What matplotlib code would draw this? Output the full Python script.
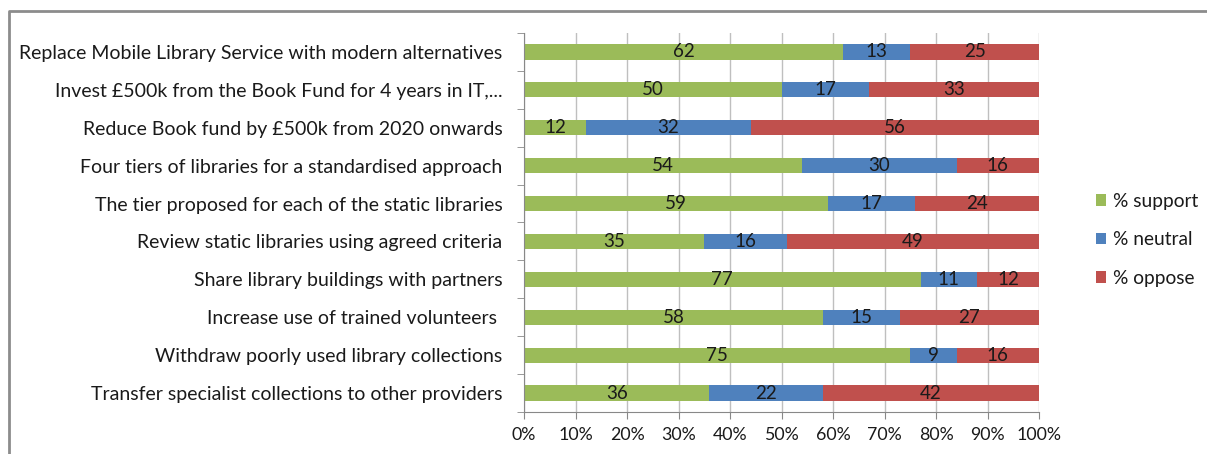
import numpy as np
import matplotlib
matplotlib.use("Agg")
import matplotlib.pyplot as plt
from matplotlib.lines import Line2D

plt.rcParams['font.family'] = ['Lato', 'DejaVu Sans']

categories = [
    "Replace Mobile Library Service with modern alternatives",
    "Invest £500k from the Book Fund for 4 years in IT,...",
    "Reduce Book fund by £500k from 2020 onwards",
    "Four tiers of libraries for a standardised approach",
    "The tier proposed for each of the static libraries",
    "Review static libraries using agreed criteria",
    "Share library buildings with partners",
    "Increase use of trained volunteers ",
    "Withdraw poorly used library collections",
    "Transfer specialist collections to other providers",
]
support = [62, 50, 12, 54, 59, 35, 77, 58, 75, 36]
neutral = [13, 17, 32, 30, 17, 16, 11, 15, 9, 22]
oppose = [25, 33, 56, 16, 24, 49, 12, 27, 16, 42]

series = [("% support", support, "#9bbb59"),
          ("% neutral", neutral, "#4f81bd"),
          ("% oppose", oppose, "#c0504d")]

fig = plt.figure(figsize=(12.07, 4.54), dpi=100)
ax = fig.add_axes([524 / 1207, 1 - 412 / 454, (1039 - 524) / 1207, (412 - 33) / 454])

y = np.arange(len(categories))
left = np.zeros(len(categories))
for name, vals, col in series:
    vals = np.array(vals, dtype=float)
    ax.barh(y, vals, left=left, height=0.4, color=col, label=name, zorder=2)
    for yi, l, v in zip(y, left, vals):
        ax.text(l + v / 2, yi, str(int(v)), ha="center", va="center",
                fontsize=13.5, color="#1a1a1a", zorder=3)
    left += vals

ax.set_xlim(0, 100)
ax.set_ylim(len(categories) - 0.5, -0.5)
ax.set_xticks(np.arange(0, 101, 10))
ax.set_xticklabels([f"{v}%" for v in range(0, 101, 10)])
ax.set_yticks(y)
ax.set_yticklabels(categories)
ax.set_yticks(np.arange(-0.5, len(categories), 1), minor=True)
ax.tick_params(axis="y", which="major", length=0, pad=15.5, labelsize=14, labelcolor="#1a1a1a")
ax.tick_params(axis="y", which="minor", length=5, color="#888888")
ax.tick_params(axis="x", length=5, color="#888888", labelsize=12.8, labelcolor="#1a1a1a", pad=6)
ax.grid(axis="x", color="#bfbfbf", linewidth=1, zorder=0)
for s in ["top", "right"]:
    ax.spines[s].set_visible(False)
for s in ["left", "bottom"]:
    ax.spines[s].set_color("#888888")

ax.legend(loc="center left", bbox_to_anchor=(1.077, 0.455), frameon=False,
          fontsize=13.8, handlelength=0.55, handleheight=0.55, handletextpad=0.35,
          labelspacing=1.12, labelcolor="#1a1a1a")

fx = 9 / 1207
fy = 1 - 11 / 454
fig.add_artist(Line2D([fx, fx, 1], [0, fy, fy], transform=fig.transFigure,
                      color="#8c8c8c", linewidth=2))

fig.savefig("out.png", dpi=100)
